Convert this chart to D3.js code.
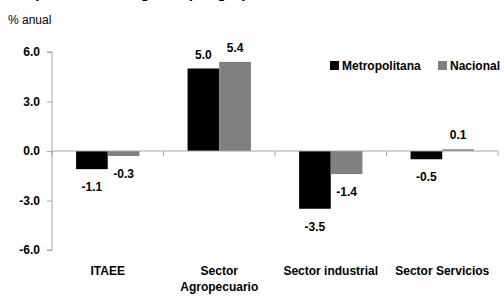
<!DOCTYPE html>
<html>
<head>
<meta charset="utf-8">
<script src="https://cdn.jsdelivr.net/npm/d3@7"></script>
<style>
  body { margin: 0; background: #fff; }
  text { font-family: "Liberation Sans Narrow", "Arial Narrow", "Liberation Sans", Arial, sans-serif; }
</style>
</head>
<body>
<div id="canvas"></div>
<script>
// chart data
var categories = ['ITAEE', 'Sector Agropecuario', 'Sector industrial', 'Sector Servicios'];
var catLines = [['ITAEE'], ['Sector', 'Agropecuario'], ['Sector industrial'], ['Sector Servicios']];
var series = ['Metropolitana', 'Nacional'];
var metropolitana = [-1.1, 5.0, -3.5, -0.5];
var nacional = [-0.3, 5.4, -1.4, 0.1];
var yTicks = [6, 3, 0, -3, -6];
var colors = ['#000000', '#808080'];

var W = 504, H = 299;
var m = {t: 52, r: 6, b: 49, l: 52};

// plain hyphen instead of d3's unicode minus
function fmt(v){ return v.toFixed(1); }

var svg = d3.select('#canvas').append('svg')
    .attr('width', W).attr('height', H);

// clipped title at the very top
svg.append('text')
    .attr('x', 2).attr('y', -2)
    .style('font-size', '15px').style('font-weight', 'bold')
    .text('Comportamiento regional por grupo de actividad');

svg.append('text')
    .attr('x', 8).attr('y', 24)
    .style('font-size', '12px')
    .text('% anual');

var x = d3.scaleBand().domain(categories).range([m.l, W - m.r]);
var x1 = d3.scaleBand().domain(series).range([0, x.bandwidth()]).paddingInner(0).paddingOuter(0.76);
var y = d3.scaleLinear().domain([-6, 6]).range([H - m.b, m.t]);

var data = categories.map(function(c, i){
    return {cat: c, vals: [metropolitana[i], nacional[i]]};
});

// y axis
var yAxis = svg.append('g')
    .attr('transform', 'translate(' + m.l + ',0)')
    .call(d3.axisLeft(y).tickValues(yTicks).tickSize(5).tickFormat(fmt));
yAxis.select('.domain').attr('stroke', '#a6a6a6').attr('d', 'M-5,' + y(6) + 'H0V' + y(-6) + 'H-5');
yAxis.selectAll('.tick line').attr('stroke', '#a6a6a6');
yAxis.selectAll('.tick text')
    .attr('x', -12)
    .style('font-size', '12px').style('font-weight', 'bold').attr('fill', '#000');

// bars
var groups = svg.selectAll('.grp').data(data).enter().append('g')
    .attr('class', 'grp')
    .attr('transform', function(d){ return 'translate(' + x(d.cat) + ',0)'; });

groups.selectAll('rect').data(function(d){
        return d.vals.map(function(v, j){ return {s: series[j], v: v, j: j}; });
    }).enter().append('rect')
    .attr('x', function(d){ return x1(d.s); })
    .attr('width', x1.bandwidth())
    .attr('y', function(d){ return y(Math.max(0, d.v)); })
    .attr('height', function(d){ return Math.abs(y(d.v) - y(0)); })
    .attr('fill', function(d){ return colors[d.j]; });

groups.selectAll('.lbl').data(function(d){
        return d.vals.map(function(v, j){ return {s: series[j], v: v, j: j}; });
    }).enter().append('text')
    .attr('class', 'lbl')
    .attr('x', function(d){ return x1(d.s) + x1.bandwidth() / 2; })
    .attr('y', function(d){ return d.v >= 0 ? y(d.v) - 10 : y(d.v) + 22; })
    .attr('text-anchor', 'middle')
    .style('font-size', '12px').style('font-weight', 'bold')
    .text(function(d){ return fmt(d.v); });

// zero line with category ticks
var xAxis = svg.append('g')
    .attr('transform', 'translate(0,' + y(0) + ')');
xAxis.append('line')
    .attr('x1', m.l).attr('x2', W - m.r)
    .attr('stroke', '#a6a6a6');
xAxis.selectAll('.ct').data(categories.concat(['end'])).enter().append('line')
    .attr('x1', function(d, i){ return m.l + i * x.bandwidth(); })
    .attr('x2', function(d, i){ return m.l + i * x.bandwidth(); })
    .attr('y1', 0).attr('y2', 5)
    .attr('stroke', '#a6a6a6');

// category labels
svg.selectAll('.cat').data(catLines).enter().append('text')
    .attr('class', 'cat')
    .attr('x', function(d, i){ return x(categories[i]) + x.bandwidth() / 2; })
    .attr('y', 275)
    .attr('text-anchor', 'middle')
    .style('font-size', '12px').style('font-weight', 'bold')
    .selectAll('tspan').data(function(d){ return d; }).enter().append('tspan')
    .attr('x', function(){ return d3.select(this.parentNode).attr('x'); })
    .attr('dy', function(d, i){ return i === 0 ? 0 : 16; })
    .text(function(d){ return d; });

// legend
var leg = svg.append('g').attr('transform', 'translate(330,61)');
var lx = [0, 108];
series.forEach(function(s, i){
    leg.append('rect').attr('x', lx[i]).attr('y', 0).attr('width', 9).attr('height', 9).attr('fill', colors[i]);
    leg.append('text').attr('x', lx[i] + 12).attr('y', 9)
        .style('font-size', '12px').style('font-weight', 'bold')
        .text(s);
});
</script>
</body>
</html>
